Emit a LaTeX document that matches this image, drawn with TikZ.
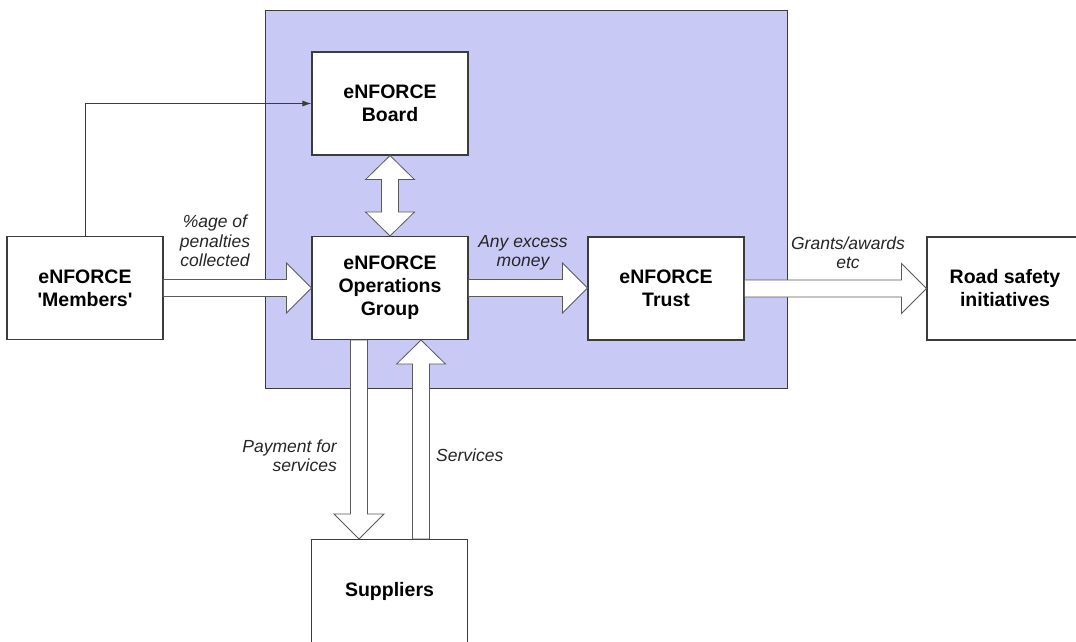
\documentclass[tikz,border=0pt]{standalone}
\usepackage{fontspec}
\setmainfont{Liberation Sans}
\usetikzlibrary{calc,arrows.meta}
\definecolor{bglav}{RGB}{201,201,245}
\definecolor{boxline}{RGB}{60,60,60}
\definecolor{arrline}{RGB}{90,90,90}
\tikzset{
  box/.style={draw=boxline, line width=1.1pt, fill=white, minimum width=156pt, minimum height=103pt, inner sep=0pt, align=center, font=\bfseries\fontsize{19.5}{23}\selectfont},
  lbl/.style={align=center, inner sep=0pt, text=black!85, font=\itshape\fontsize{17.5}{19.5}\selectfont},
  bigarr/.style={draw=arrline, line width=0.8pt, fill=white, line join=miter},
}
% right-pointing block arrow: #1 start, #2 tip
\newcommand\blockR[2]{\path[bigarr] let \p1=(#1), \p2=(#2) in
  (\x1,\y1+8.5pt) -- (\x2-25pt,\y1+8.5pt) -- (\x2-25pt,\y1+25pt) -- (\x2,\y1) --
  (\x2-25pt,\y1-25pt) -- (\x2-25pt,\y1-8.5pt) -- (\x1,\y1-8.5pt) -- cycle;}
% down-pointing block arrow: #1 start (top), #2 tip (bottom)
\newcommand\blockD[2]{\path[bigarr] let \p1=(#1), \p2=(#2) in
  (\x1-8.5pt,\y1) -- (\x1-8.5pt,\y2+25pt) -- (\x1-25pt,\y2+25pt) -- (\x1,\y2) --
  (\x1+25pt,\y2+25pt) -- (\x1+8.5pt,\y2+25pt) -- (\x1+8.5pt,\y1) -- cycle;}
% up-pointing block arrow: #1 start (bottom), #2 tip (top)
\newcommand\blockU[2]{\path[bigarr] let \p1=(#1), \p2=(#2) in
  (\x1-8.5pt,\y1) -- (\x1-8.5pt,\y2-24pt) -- (\x1-24.5pt,\y2-24pt) -- (\x1,\y2) --
  (\x1+24.5pt,\y2-24pt) -- (\x1+8.5pt,\y2-24pt) -- (\x1+8.5pt,\y1) -- cycle;}
% vertical double block arrow: #1 top tip, #2 bottom tip
\newcommand\blockUD[2]{\path[bigarr] let \p1=(#1), \p2=(#2) in
  (\x1,\y1) -- (\x1+24.5pt,\y1-24pt) -- (\x1+8.5pt,\y1-24pt) -- (\x1+8.5pt,\y2+24pt) --
  (\x1+24.5pt,\y2+24pt) -- (\x1,\y2) -- (\x1-24.5pt,\y2+24pt) -- (\x1-8.5pt,\y2+24pt) --
  (\x1-8.5pt,\y1-24pt) -- (\x1-24.5pt,\y1-24pt) -- cycle;}
\begin{document}
\begin{tikzpicture}[x=1pt,y=-1pt]
\useasboundingbox (0,0) rectangle (1076,641);
\clip (0,0) rectangle (1076,641);
\fill[white] (0,0) rectangle (1076,641);
% background group
\draw[fill=bglav, draw=boxline, line width=1pt] (265,10.5) rectangle (787,388.5);
% boxes
\node[box] (board) at (390,103.5) {eNFORCE\\Board};
\node[box] (ops)   at (390,288)   {eNFORCE\\Operations\\Group};
\node[box] (mem)   at (85,288)    {eNFORCE\\\textquotesingle Members\textquotesingle};
\node[box] (trust) at (666,288.5) {eNFORCE\\Trust};
\node[box] (road)  at (1005,288.5){Road safety\\initiatives};
\node[box] (sup)   at (389.5,591) {Suppliers};
% thin connector members -> board
\draw[boxline, line width=0.9pt, -{Latex[length=9pt,width=6pt]}] (mem.north) |- (board.west);
% block arrows
\blockR{mem.east}{ops.west}
\blockR{ops.east}{trust.west}
\blockR{trust.east}{road.west}
\blockUD{board.south}{ops.north}
\coordinate (payA) at ([xshift=-31pt]ops.south);
\coordinate (payB) at (payA |- sup.north);
\blockD{payA}{payB}
\coordinate (srvB) at ([xshift=31pt]ops.south);
\coordinate (srvA) at (srvB |- sup.north);
\blockU{srvA}{srvB}
% labels
\node[lbl] (lpct) at (215,241) {\%age of\\penalties\\collected};
\node[lbl] (lexc) at (523,253) {Any excess\\money};
\node[lbl] (lgra) at (848,252.5) {Grants/awards\\etc};
\node[lbl, align=right, anchor=east] (lpay) at (337,455.5) {Payment for\\services};
\node[lbl, anchor=west] (lsrv) at (436,455) {Services};
\end{tikzpicture}
\end{document}
